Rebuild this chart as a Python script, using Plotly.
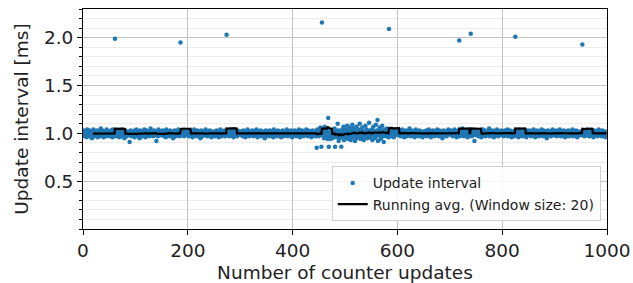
import numpy as np
import pandas as pd
import plotly.graph_objects as go

# Update intervals in hundredths of a millisecond (index 0..999)
interval_centi = [
    101,99,103,97,100,102,98,96,104,100, 99,101,97,103,100,98,102,95,101,99,
    104,100,97,102,99,101,98,103,96,100, 102,99,97,101,105,98,100,103,99,96,
    101,100,98,102,97,104,99,101,100,98,
    102,97,100,103,99,101,96,104,98,100, 101,199,97,102,99,100,103,98,101,96,
    100,102,99,97,104,101,98,100,102,95, 99,103,101,97,100,98,102,99,101,91,
    100,103,97,99,102,100,98,101,96,103,
    99,101,104,97,100,102,98,101,95,103, 100,99,102,97,101,100,98,104,99,96,
    101,103,100,98,102,99,97,101,100,105, 98,102,99,101,97,100,103,98,101,99,
    92,102,100,97,104,99,101,98,100,102,
    98,101,103,99,100,97,102,100,96,104, 99,101,98,102,100,97,103,99,101,100,
    98,102,95,101,99,103,100,97,102,101, 98,100,104,99,97,101,195,100,102,98,
    101,99,103,97,100,102,98,101,99,100,
    101,99,97,102,100,103,98,101,99,96, 100,102,104,98,101,99,100,97,103,101,
    98,100,102,99,95,101,103,100,97,99, 102,101,98,100,104,99,101,97,100,102,
    98,99,103,101,100,96,102,99,101,98,
    100,102,97,101,99,103,98,100,102,96, 101,99,104,100,97,102,98,101,100,99,
    103,97,101,100,203,98,102,99,101,97, 100,103,99,102,98,100,101,96,104,99,
    100,102,98,101,97,103,100,99,101,102,
    99,101,98,102,100,97,103,101,99,100, 96,102,98,101,104,99,100,97,102,101,
    98,100,99,103,101,97,100,102,98,99, 101,104,100,96,102,99,101,98,100,103,
    97,101,99,100,102,98,101,95,100,103,
    101,98,100,102,99,97,103,100,101,98, 102,99,100,96,104,101,99,102,98,100,
    97,101,103,99,100,102,98,101,96,100, 99,103,101,97,102,100,98,101,99,104,
    100,97,102,101,99,98,100,103,101,96,
    100,102,99,98,103,101,100,97,102,99, 101,98,104,100,96,102,99,101,103,98,
    100,97,101,102,99,100,104,98,101,97, 103,100,99,102,98,101,96,100,103,99,
    101,98,102,100,97,101,85,104,100,102,
    97,103,99,106,101,86,216,98,104,100, 95,107,101,99,104,96,102,94,116,86,
    100,97,94,103,99,100,95,101,98,98, 105,86,101,96,103,97,110,99,92,103,
    95,101,98,86,102,104,97,107,93,101,
    100,96,104,99,108,101,94,102,97,106, 100,93,103,99,109,96,101,105,98,92,
    102,100,107,95,101,98,104,97,110,99, 94,103,100,106,96,101,93,102,99,108,
    97,104,100,95,103,98,111,101,96,102,
    99,104,93,101,107,98,102,95,100,109, 97,103,114,92,101,98,106,100,94,103,
    96,108,101,99,91,104,98,102,97,100, 105,99,103,96,209,101,98,104,100,97,
    102,99,101,96,103,100,98,102,99,101,
    101,99,102,98,100,103,97,101,99,104, 100,98,102,96,101,100,103,99,97,102,
    101,98,100,105,99,101,97,103,100,98, 102,99,101,96,100,104,98,101,99,102,
    100,97,103,101,98,100,99,102,96,101,
    100,102,98,101,99,103,97,100,102,99, 104,98,101,100,96,102,99,101,103,98,
    100,97,102,101,99,100,104,98,101,97, 103,100,99,102,98,101,95,100,103,99,
    101,98,102,100,97,101,99,104,100,102,
    99,101,103,98,100,102,97,101,99,104, 100,98,102,96,101,100,103,99,197,97,
    102,101,98,100,105,99,101,97,103,100, 98,102,99,101,96,100,104,98,101,99,
    204,100,97,103,101,98,100,92,102,101,
    100,98,102,99,101,97,103,100,99,102, 96,101,100,104,98,101,99,103,97,100,
    102,98,101,99,100,105,97,102,101,98, 100,99,103,101,96,102,100,98,101,99,
    104,100,97,102,101,99,98,100,103,101,
    99,102,100,97,101,103,98,100,99,102, 104,97,101,100,98,103,99,101,96,102,
    100,99,101,97,103,201,100,98,102,99, 101,96,100,104,98,101,99,102,97,100,
    103,101,98,99,102,100,96,101,103,99,
    101,98,100,103,99,97,102,100,101,98, 104,99,100,96,102,101,99,103,98,100,
    97,101,102,99,100,104,98,101,97,103, 100,99,102,98,101,95,100,103,99,101,
    98,102,100,97,101,99,104,100,102,98,
    100,101,99,103,97,100,102,98,101,99, 104,100,97,102,101,98,100,99,103,101,
    96,102,100,98,101,99,103,97,100,102, 101,98,99,100,104,97,101,102,99,100,
    98,103,101,96,100,102,99,101,98,100,
    102,99,101,193,98,100,103,97,101,99, 102,100,98,104,99,101,97,100,103,101,
    98,102,99,100,96,101,103,99,100,98, 102,101,97,100,104,99,101,98,100,102,
    97,103,99,101,100,98,102,96,101,100,
]
window_size = 20
x_ticks = [0, 200, 400, 600, 800, 1000]
y_ticks = [0.5, 1.0, 1.5, 2.0]

interval_ms = np.array(interval_centi) / 100.0
updates = np.arange(len(interval_ms))
running_avg = pd.Series(interval_ms).rolling(window_size).mean()

fig = go.Figure()
fig.add_trace(go.Scatter(
    x=updates, y=interval_ms, mode="markers", name="Update interval",
    marker=dict(color="#1f77b4", size=4.5, line=dict(width=0)),
))
fig.add_trace(go.Scatter(
    x=updates, y=running_avg, mode="lines",
    name=f"Running avg. (Window size: {window_size})",
    line=dict(color="black", width=2.2),
))

font_family = "DejaVu Sans"
fig.update_layout(
    width=633, height=283,
    margin=dict(l=83, r=26, t=9, b=54),
    paper_bgcolor="white", plot_bgcolor="white",
    font=dict(family=font_family, size=18, color="#222"),
    showlegend=True,
    legend=dict(
        x=0.988, y=0.035, xanchor="right", yanchor="bottom",
        bgcolor="rgba(255,255,255,0.85)", bordercolor="#d0d0d0", borderwidth=1,
        font=dict(family=font_family, size=14, color="#222"),
        tracegroupgap=0, itemwidth=30,
    ),
)
fig.update_xaxes(
    range=[0, 1000], tickvals=x_ticks, ticktext=[str(v) for v in x_ticks],
    automargin=False,
    showgrid=True, gridcolor="#c4c4c4", gridwidth=1,
    showline=True, linecolor="black", linewidth=1, mirror=True,
    ticks="outside", ticklen=5, tickcolor="black",
    tickfont=dict(size=18.5),
    title=dict(text="Number of counter updates", font=dict(size=18.5), standoff=8),
    zeroline=False,
)
fig.update_yaxes(
    range=[0, 2.3], tickvals=y_ticks, ticktext=[f"{v:.1f}" for v in y_ticks],
    automargin=False,
    showgrid=True, gridcolor="#c4c4c4", gridwidth=1,
    showline=True, linecolor="black", linewidth=1, mirror=True,
    ticks="outside", ticklen=5, tickcolor="black",
    tickfont=dict(size=18.5),
    minor=dict(dtick=0.1, tick0=0, showgrid=True, gridcolor="#ececec",
               ticks="outside", ticklen=3, tickcolor="black"),
    title=dict(text="Update interval [ms]", font=dict(size=18.5), standoff=10),
    zeroline=False,
)

# remove the page's default body margin so the figure fills the window exactly
fig.write_html(
    "out.html",
    config={"displayModeBar": False},
    post_script="document.body.style.margin='0';document.body.style.overflow='hidden';",
)
